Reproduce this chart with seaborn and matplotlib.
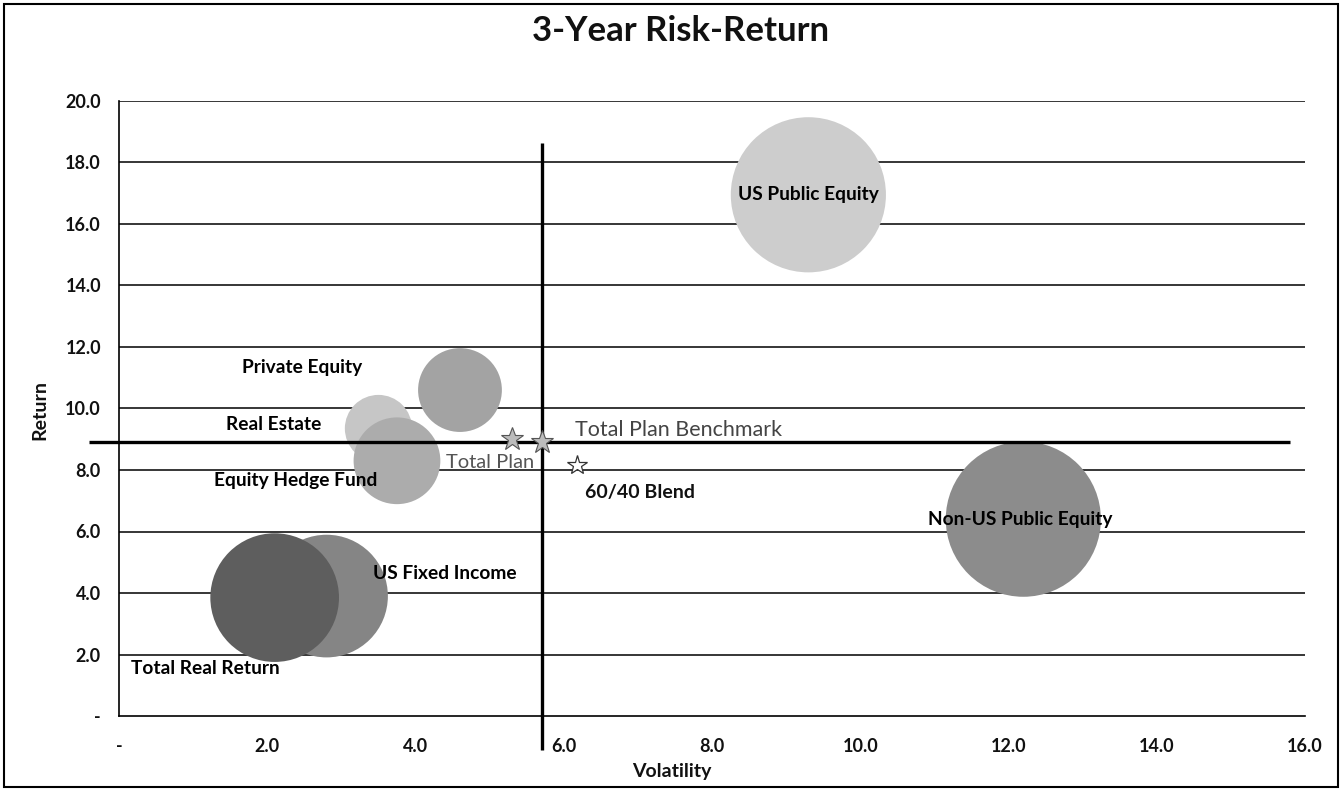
import matplotlib
matplotlib.use("Agg")
import matplotlib.pyplot as plt
from matplotlib.patches import Rectangle
import numpy as np
import pandas as pd
import seaborn as sns

# ---- data -------------------------------------------------------------
assets = ["US Fixed Income", "Total Real Return", "US Public Equity",
          "Non-US Public Equity", "Private Equity", "Real Estate",
          "Equity Hedge Fund"]
volatility = [2.8, 2.1, 9.3, 12.2, 4.6, 3.5, 3.75]
returns = [3.9, 3.85, 16.95, 6.4, 10.6, 9.35, 8.3]
weights = [15.0, 16.5, 24.0, 24.0, 7.0, 4.5, 7.5]
fills = ["#858585", "#5e5e5e", "#cdcdcd", "#8c8c8c", "#a3a3a3", "#c6c6c6", "#acacac"]

points = ["Total Plan", "Total Plan Benchmark", "60/40 Blend"]
point_vol = [5.30, 5.70, 6.18]
point_ret = [9.00, 8.92, 8.16]

x_ticks = [0, 2, 4, 6, 8, 10, 12, 14, 16]
x_ticklabels = ["-", "2.0", "4.0", "6.0", "8.0", "10.0", "12.0", "14.0", "16.0"]
y_ticks = [0, 2, 4, 6, 8, 10, 12, 14, 16, 18, 20]
y_ticklabels = ["-", "2.0", "4.0", "6.0", "8.0", "10.0", "12.0", "14.0", "16.0", "18.0", "20.0"]

# ---- style ------------------------------------------------------------
sns.set_theme(style="white")
plt.rcParams["font.family"] = ["Lato", "DejaVu Sans"]

W, H = 1343, 791
fig = plt.figure(figsize=(W / 100, H / 100), dpi=100)
ax = fig.add_axes([119 / W, 1 - 716 / H, (1305 - 119) / W, (716 - 101) / H])

bubbles = pd.DataFrame({"asset": assets, "Volatility": volatility,
                        "Return": returns, "weight": weights})
# bubble area proportional to weight
area_per_unit = 520.0
sns.scatterplot(data=bubbles, x="Volatility", y="Return", hue="asset",
                palette=dict(zip(assets, fills)), size="weight",
                sizes={w: w * area_per_unit for w in weights},
                linewidth=0, alpha=1.0, legend=False, ax=ax, zorder=3)

ax.set_xlim(0, 16)
ax.set_ylim(0, 20)
ax.set_xticks(x_ticks)
ax.set_xticklabels(x_ticklabels)
ax.set_yticks(y_ticks)
ax.set_yticklabels(y_ticklabels)
ax.tick_params(axis="both", direction="out", length=5, width=1.0, color="black",
               labelsize=13, labelcolor="#111111")
ax.tick_params(axis="y", pad=8)
ax.tick_params(axis="x", pad=11)
for lab in ax.get_xticklabels() + ax.get_yticklabels():
    lab.set_fontweight("bold")

# horizontal gridlines behind the bubbles
for yv in y_ticks[1:]:
    ax.axhline(yv, color="black", lw=1.1, zorder=1)

for side in ["top", "right"]:
    ax.spines[side].set_visible(False)
for side in ["left", "bottom"]:
    ax.spines[side].set_color("black")
    ax.spines[side].set_linewidth(1.2)

ax.set_xlabel("")
ax.set_ylabel("")
fig.text(672 / W, 1 - 772 / H, "Volatility", ha="center", va="center",
         fontsize=14, fontweight="bold", color="#111111")
fig.text(40 / W, 1 - 410 / H, "Return", ha="center", va="center",
         rotation=90, fontsize=14, fontweight="bold", color="#111111")

# benchmark crosshair
bx, by = point_vol[1], point_ret[1]
ax.plot([-0.4, 15.8], [by, by], color="black", lw=2.4, zorder=5, clip_on=False,
        solid_capstyle="butt")
ax.plot([bx, bx], [-1.1, 18.65], color="black", lw=2.4, zorder=5, clip_on=False,
        solid_capstyle="butt")

# plan / benchmark / blend stars
ax.plot(point_vol[:2], point_ret[:2], linestyle="none", marker="*", ms=17,
        mfc="#bcbcbc", mec="#555555", mew=0.8, zorder=6)
ax.plot(point_vol[2], point_ret[2], linestyle="none", marker="*", ms=15,
        mfc="white", mec="#333333", mew=0.9, zorder=6)

# labels
label_off = {
    "US Public Equity": (0, 0),
    "Non-US Public Equity": (-3, 0),
    "US Fixed Income": (118, 23),
    "Total Real Return": (-69, -71),
    "Private Equity": (-158, 23),
    "Real Estate": (-105, 4),
    "Equity Hedge Fund": (-101, -20),
}
for name, xv, yv in zip(assets, volatility, returns):
    dx, dy = label_off[name]
    ax.annotate(name, (xv, yv), xytext=(dx, dy), textcoords="offset pixels",
                ha="center", va="center", fontsize=13.8, fontweight="bold",
                color="black", zorder=7)

point_style = {
    "Total Plan": dict(off=(-22, -23), weight="normal", color="#555555", size=14.5),
    "Total Plan Benchmark": dict(off=(137, 12), weight="normal", color="#444444", size=15.5),
    "60/40 Blend": dict(off=(63, -27), weight="bold", color="#111111", size=14),
}
for name, xv, yv in zip(points, point_vol, point_ret):
    st = point_style[name]
    ax.annotate(name, (xv, yv), xytext=st["off"], textcoords="offset pixels",
                ha="center", va="center", fontsize=st["size"],
                fontweight=st["weight"], color=st["color"], zorder=7)

fig.text(681 / W, 1 - 31 / H, "3-Year Risk-Return", ha="center", va="center",
         fontsize=25, fontweight="bold", color="#111111")

# outer frame
fig.patches.append(Rectangle((4 / W, 4 / H), (1338 - 4) / W, (787 - 4) / H,
                             transform=fig.transFigure, fill=False,
                             edgecolor="black", lw=1.5))

fig.savefig("out.png", dpi=100)
